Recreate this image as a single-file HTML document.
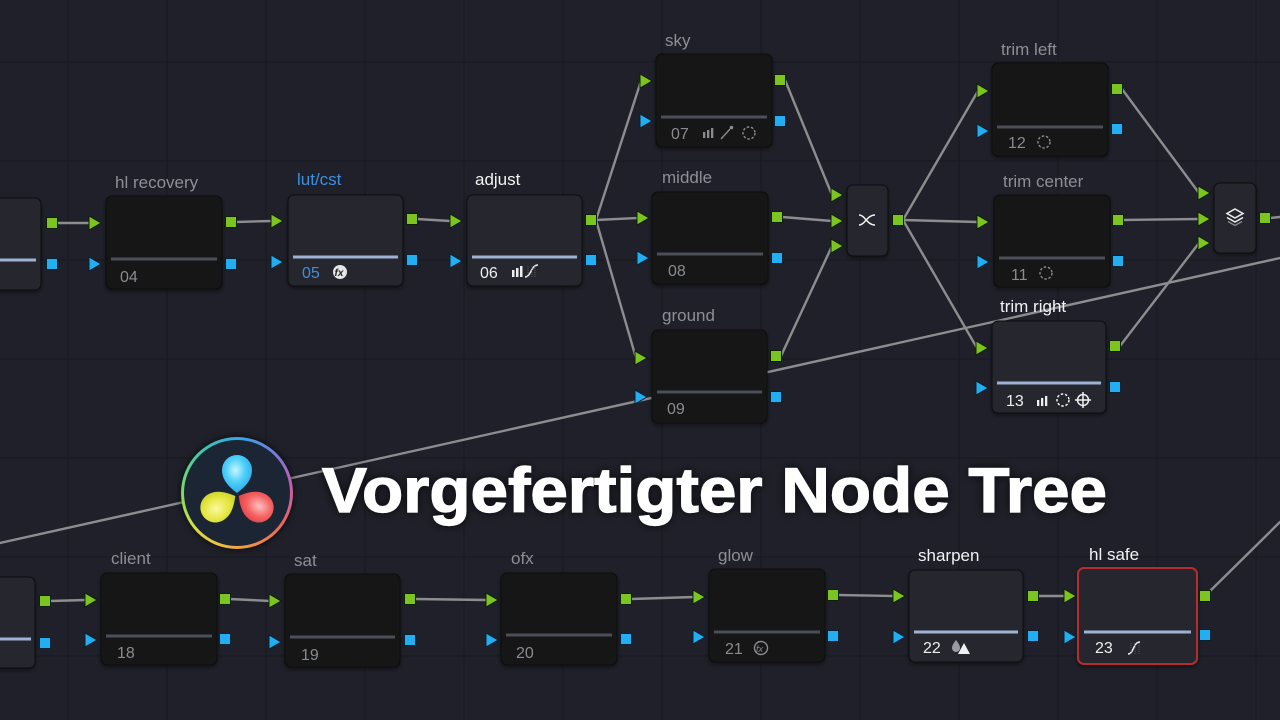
<!DOCTYPE html>
<html><head><meta charset="utf-8">
<style>
html,body{margin:0;padding:0;background:#1f2029;}
#wrap{position:relative;width:1280px;height:720px;overflow:hidden;background:#1f2029;}
svg{position:absolute;left:0;top:0;}
.grid line{stroke:#1b1c23;stroke-width:1.5}
.cn{stroke:#8d8d90;stroke-width:2.4;fill:none;stroke-linecap:round}
.dk{fill:#131317;stroke:#0b0b0d;stroke-width:1}
.lt{fill:#26272e;stroke:#0e0e11;stroke-width:1}
.ld{stroke:#4b4f59;stroke-width:3}
.ll{stroke:#9fb2d4;stroke-width:3}
.lb{font-family:"Liberation Sans",sans-serif;font-size:17px;fill:#8e8f95}
.lw{font-family:"Liberation Sans",sans-serif;font-size:17px;fill:#f2f2f2}
.nd{font-family:"Liberation Sans",sans-serif;font-size:16px;fill:#8a8b90}
.nw{font-family:"Liberation Sans",sans-serif;font-size:16px;fill:#eeeeee}
.gt{fill:#7cc520;stroke:#0f2006;stroke-width:1}
.bt{fill:#22aef0;stroke:#062233;stroke-width:1}
.ic{stroke:#8a8b90;fill:none;stroke-width:1.4}
.iw{stroke:#f0f0f0;fill:none;stroke-width:1.5}
#logo{position:absolute;left:181px;top:437px;width:112px;height:112px;border-radius:50%;
background:conic-gradient(from 0deg,#33a9e6,#6b7ee0 40deg,#c05fb0 80deg,#e5626a 120deg,#f08a48 160deg,#f0c040 200deg,#d8e040 230deg,#80d860 270deg,#40c8b0 320deg,#33a9e6);
box-shadow:0 0 8px rgba(0,0,0,.7);}
#logo div{position:absolute;left:3px;top:3px;right:3px;bottom:3px;border-radius:50%;background:#1c2534;}
</style></head>
<body><div id="wrap">
<svg width="1280" height="720" viewBox="0 0 1280 720">
<defs>
<filter id="sh" x="-10%" y="-10%" width="120%" height="130%"><feDropShadow dx="0" dy="2" stdDeviation="2" flood-color="#000" flood-opacity="0.45"/></filter>
<filter id="tsh" x="-5%" y="-30%" width="110%" height="160%"><feDropShadow dx="0" dy="0" stdDeviation="5" flood-color="#000" flood-opacity="0.7"/></filter>
</defs>
<g class="grid">
<line x1="68" y1="0" x2="68" y2="720"/><line x1="167" y1="0" x2="167" y2="720"/><line x1="266" y1="0" x2="266" y2="720"/><line x1="365" y1="0" x2="365" y2="720"/><line x1="464" y1="0" x2="464" y2="720"/><line x1="563" y1="0" x2="563" y2="720"/><line x1="662" y1="0" x2="662" y2="720"/><line x1="761" y1="0" x2="761" y2="720"/><line x1="860" y1="0" x2="860" y2="720"/><line x1="959" y1="0" x2="959" y2="720"/><line x1="1058" y1="0" x2="1058" y2="720"/><line x1="1157" y1="0" x2="1157" y2="720"/><line x1="1256" y1="0" x2="1256" y2="720"/>
<line x1="0" y1="62" x2="1280" y2="62"/><line x1="0" y1="161" x2="1280" y2="161"/><line x1="0" y1="260" x2="1280" y2="260"/><line x1="0" y1="359" x2="1280" y2="359"/><line x1="0" y1="458" x2="1280" y2="458"/><line x1="0" y1="557" x2="1280" y2="557"/><line x1="0" y1="656" x2="1280" y2="656"/>
</g>

<!-- connectors -->
<g class="cn">
<line x1="0" y1="543" x2="1280" y2="258"/>
<line x1="57" y1="223" x2="89" y2="223"/>
<line x1="236" y1="222" x2="271" y2="221"/>
<line x1="417" y1="219" x2="450" y2="221"/>
<line x1="596" y1="220" x2="641" y2="81"/>
<line x1="596" y1="220" x2="638" y2="218"/>
<line x1="596" y1="220" x2="636" y2="358"/>
<line x1="785" y1="80" x2="832" y2="195"/>
<line x1="782" y1="217" x2="832" y2="221"/>
<line x1="781" y1="356" x2="832" y2="246"/>
<line x1="903" y1="220" x2="978" y2="91"/>
<line x1="903" y1="220" x2="978" y2="222"/>
<line x1="903" y1="220" x2="977" y2="348"/>
<line x1="1122" y1="89" x2="1199" y2="193"/>
<line x1="1123" y1="220" x2="1199" y2="219"/>
<line x1="1120" y1="346" x2="1199" y2="243"/>
<line x1="1270" y1="218" x2="1280" y2="217"/>
<line x1="50" y1="601" x2="86" y2="600"/>
<line x1="230" y1="599" x2="270" y2="601"/>
<line x1="415" y1="599" x2="487" y2="600"/>
<line x1="631" y1="599" x2="694" y2="597"/>
<line x1="838" y1="595" x2="894" y2="596"/>
<line x1="1038" y1="596" x2="1065" y2="596"/>
<line x1="1205" y1="596" x2="1280" y2="522"/>
</g>

<!-- nodes -->
<g filter="url(#sh)">
<rect x="-10" y="198" width="51" height="92" rx="6" class="lt"/>
<rect x="106" y="196" width="116" height="93" rx="6" class="dk"/>
<rect x="288" y="195" width="115" height="91" rx="6" class="lt"/>
<rect x="467" y="195" width="115" height="91" rx="6" class="lt"/>
<rect x="656" y="54" width="116" height="93" rx="6" class="dk"/>
<rect x="652" y="192" width="116" height="92" rx="6" class="dk"/>
<rect x="652" y="330" width="115" height="93" rx="6" class="dk"/>
<rect x="847" y="185" width="41" height="71" rx="6" class="lt"/>
<rect x="992" y="63" width="116" height="93" rx="6" class="dk"/>
<rect x="994" y="195" width="116" height="92" rx="6" class="dk"/>
<rect x="992" y="321" width="114" height="92" rx="6" class="lt"/>
<rect x="1214" y="183" width="42" height="70" rx="6" class="lt"/>
<rect x="-10" y="577" width="45" height="91" rx="6" class="lt"/>
<rect x="101" y="573" width="116" height="92" rx="6" class="dk"/>
<rect x="285" y="574" width="115" height="93" rx="6" class="dk"/>
<rect x="501" y="573" width="116" height="92" rx="6" class="dk"/>
<rect x="709" y="569" width="116" height="93" rx="6" class="dk"/>
<rect x="909" y="570" width="114" height="92" rx="6" class="lt"/>
<rect x="1078" y="568" width="119" height="96" rx="6" fill="#26272e" stroke="#b42e2e" stroke-width="2"/>
</g>

<!-- inner lines -->
<line x1="-10" y1="260" x2="36" y2="260" class="ll"/>
<line x1="111" y1="259" x2="217" y2="259" class="ld"/>
<line x1="293" y1="257" x2="398" y2="257" class="ll"/>
<line x1="472" y1="257" x2="577" y2="257" class="ll"/>
<line x1="661" y1="117" x2="767" y2="117" class="ld"/>
<line x1="657" y1="254" x2="763" y2="254" class="ld"/>
<line x1="657" y1="392" x2="762" y2="392" class="ld"/>
<line x1="997" y1="127" x2="1103" y2="127" class="ld"/>
<line x1="999" y1="258" x2="1105" y2="258" class="ld"/>
<line x1="997" y1="383" x2="1101" y2="383" class="ll"/>
<line x1="-10" y1="639" x2="31" y2="639" class="ll"/>
<line x1="106" y1="636" x2="212" y2="636" class="ld"/>
<line x1="290" y1="637" x2="395" y2="637" class="ld"/>
<line x1="506" y1="635" x2="612" y2="635" class="ld"/>
<line x1="714" y1="632" x2="820" y2="632" class="ld"/>
<line x1="914" y1="632" x2="1018" y2="632" class="ll"/>
<line x1="1084" y1="632" x2="1191" y2="632" class="ll"/>

<!-- labels -->
<text x="115" y="188" class="lb">hl recovery</text>
<text x="297" y="185" class="lb" style="fill:#3d8fe0">lut/cst</text>
<text x="475" y="185" class="lw">adjust</text>
<text x="665" y="46" class="lb">sky</text>
<text x="662" y="183" class="lb">middle</text>
<text x="662" y="321" class="lb">ground</text>
<text x="1001" y="55" class="lb">trim left</text>
<text x="1003" y="187" class="lb">trim center</text>
<text x="1000" y="312" class="lw">trim right</text>
<text x="111" y="564" class="lb">client</text>
<text x="294" y="566" class="lb">sat</text>
<text x="511" y="564" class="lb">ofx</text>
<text x="718" y="561" class="lb">glow</text>
<text x="918" y="561" class="lw">sharpen</text>
<text x="1089" y="560" class="lw">hl safe</text>

<!-- numbers -->
<text x="120" y="282" class="nd">04</text>
<text x="302" y="278" class="nw" style="fill:#3d8fe0">05</text>
<text x="480" y="278" class="nw">06</text>
<text x="671" y="139" class="nd">07</text>
<text x="668" y="276" class="nd">08</text>
<text x="667" y="414" class="nd">09</text>
<text x="1008" y="148" class="nd">12</text>
<text x="1011" y="280" class="nd">11</text>
<text x="1006" y="406" class="nw">13</text>
<text x="117" y="658" class="nd">18</text>
<text x="301" y="660" class="nd">19</text>
<text x="516" y="658" class="nd">20</text>
<text x="725" y="654" class="nd">21</text>
<text x="923" y="653" class="nw">22</text>
<text x="1095" y="653" class="nw">23</text>

<!-- icons -->
<circle cx="340" cy="272" r="7" fill="#e6e6e6"/>
<text x="334.5" y="276" font-family="Liberation Sans,sans-serif" font-size="10" font-weight="bold" font-style="italic" fill="#222">fx</text>
<circle cx="761" cy="648" r="6.5" class="ic"/>
<text x="756" y="652" font-family="Liberation Sans,sans-serif" font-size="9" font-style="italic" fill="#8a8b90">fx</text>
<rect x="512" y="270" width="2.5" height="7" fill="#eee"/><rect x="516" y="268" width="2.5" height="9" fill="#eee"/><rect x="520" y="266" width="2.5" height="11" fill="#eee"/>
<path d="M525,277 C531,277 531,265 538,265" class="iw"/>
<path d="M528,266 v11 M532,266 v11 M535,266 v11" stroke="#666" stroke-width="0.8" stroke-dasharray="1 1"/>
<rect x="703" y="132" width="2.3" height="6" fill="#8a8b90"/><rect x="707" y="130" width="2.3" height="8" fill="#8a8b90"/><rect x="711" y="128" width="2.3" height="10" fill="#8a8b90"/>
<path d="M721,139 L730,129" class="ic"/><circle cx="731.5" cy="127.5" r="1.8" fill="#8a8b90"/>
<circle cx="749" cy="133" r="6" class="ic" stroke-dasharray="2.5 1.8"/>
<circle cx="1044" cy="142" r="6" class="ic" stroke-dasharray="2.5 1.8"/>
<circle cx="1046" cy="273" r="6" class="ic" stroke-dasharray="2.5 1.8"/>
<rect x="1037" y="400" width="2.3" height="6" fill="#eee"/><rect x="1041" y="398" width="2.3" height="8" fill="#eee"/><rect x="1045" y="396" width="2.3" height="10" fill="#eee"/>
<circle cx="1063" cy="400" r="6" class="iw" stroke-dasharray="2.5 1.8"/>
<circle cx="1083" cy="400" r="5.5" class="iw"/><path d="M1083,392 v16 M1075,400 h16" class="iw"/>
<path d="M956,640 C953,644 952,646 952,648 A4,4 0 0 0 960,648 C960,646 959,644 956,640 Z" fill="#9a9ba0"/>
<polygon points="958,654 964,643 970,654" fill="#f0f0f0"/>
<path d="M1128,654 C1134,654 1133,642 1140,642" class="iw"/>
<path d="M1131,643 v11 M1135,643 v11 M1139,643 v11" stroke="#666" stroke-width="0.8" stroke-dasharray="1 1"/>
<path d="M859,215 C865,215 867,225 875,225 M859,225 C865,225 867,215 875,215" class="iw"/>
<polygon points="1235,209 1243,213.5 1235,218 1227,213.5" class="iw"/>
<path d="M1227,217.5 L1235,222 L1243,217.5" class="iw"/>
<path d="M1228,221.5 L1235,225.5 L1242,221.5" stroke="#8a8b90" stroke-width="1.3" fill="none"/>

<!-- ports -->
<g>
<polygon class="gt" points="89,216 101,223 89,230"/><polygon class="gt" points="271,214 283,221 271,228"/><polygon class="gt" points="450,214 462,221 450,228"/><polygon class="gt" points="640,74 652,81 640,88"/><polygon class="gt" points="637,211 649,218 637,225"/><polygon class="gt" points="635,351 647,358 635,365"/><polygon class="gt" points="831,188 843,195 831,202"/><polygon class="gt" points="831,214 843,221 831,228"/><polygon class="gt" points="831,239 843,246 831,253"/><polygon class="gt" points="977,84 989,91 977,98"/><polygon class="gt" points="977,215 989,222 977,229"/><polygon class="gt" points="976,341 988,348 976,355"/><polygon class="gt" points="1198,186 1210,193 1198,200"/><polygon class="gt" points="1198,212 1210,219 1198,226"/><polygon class="gt" points="1198,236 1210,243 1198,250"/><polygon class="gt" points="85,593 97,600 85,607"/><polygon class="gt" points="269,594 281,601 269,608"/><polygon class="gt" points="486,593 498,600 486,607"/><polygon class="gt" points="693,590 705,597 693,604"/><polygon class="gt" points="893,589 905,596 893,603"/><polygon class="gt" points="1064,589 1076,596 1064,603"/>
<polygon class="bt" points="89,257 101,264 89,271"/><polygon class="bt" points="271,255 283,262 271,269"/><polygon class="bt" points="450,254 462,261 450,268"/><polygon class="bt" points="640,114 652,121 640,128"/><polygon class="bt" points="637,251 649,258 637,265"/><polygon class="bt" points="635,390 647,397 635,404"/><polygon class="bt" points="977,124 989,131 977,138"/><polygon class="bt" points="977,255 989,262 977,269"/><polygon class="bt" points="976,381 988,388 976,395"/><polygon class="bt" points="85,633 97,640 85,647"/><polygon class="bt" points="269,635 281,642 269,649"/><polygon class="bt" points="486,633 498,640 486,647"/><polygon class="bt" points="693,630 705,637 693,644"/><polygon class="bt" points="893,630 905,637 893,644"/><polygon class="bt" points="1064,630 1076,637 1064,644"/>
<rect class="gt" x="46.5" y="217.5" width="11" height="11"/><rect class="gt" x="225.5" y="216.5" width="11" height="11"/><rect class="gt" x="406.5" y="213.5" width="11" height="11"/><rect class="gt" x="585.5" y="214.5" width="11" height="11"/><rect class="gt" x="774.5" y="74.5" width="11" height="11"/><rect class="gt" x="771.5" y="211.5" width="11" height="11"/><rect class="gt" x="770.5" y="350.5" width="11" height="11"/><rect class="gt" x="892.5" y="214.5" width="11" height="11"/><rect class="gt" x="1111.5" y="83.5" width="11" height="11"/><rect class="gt" x="1112.5" y="214.5" width="11" height="11"/><rect class="gt" x="1109.5" y="340.5" width="11" height="11"/><rect class="gt" x="1259.5" y="212.5" width="11" height="11"/><rect class="gt" x="39.5" y="595.5" width="11" height="11"/><rect class="gt" x="219.5" y="593.5" width="11" height="11"/><rect class="gt" x="404.5" y="593.5" width="11" height="11"/><rect class="gt" x="620.5" y="593.5" width="11" height="11"/><rect class="gt" x="827.5" y="589.5" width="11" height="11"/><rect class="gt" x="1027.5" y="590.5" width="11" height="11"/><rect class="gt" x="1199.5" y="590.5" width="11" height="11"/>
<rect class="bt" x="46.5" y="258.5" width="11" height="11"/><rect class="bt" x="225.5" y="258.5" width="11" height="11"/><rect class="bt" x="406.5" y="254.5" width="11" height="11"/><rect class="bt" x="585.5" y="254.5" width="11" height="11"/><rect class="bt" x="774.5" y="115.5" width="11" height="11"/><rect class="bt" x="771.5" y="252.5" width="11" height="11"/><rect class="bt" x="770.5" y="391.5" width="11" height="11"/><rect class="bt" x="1111.5" y="123.5" width="11" height="11"/><rect class="bt" x="1112.5" y="255.5" width="11" height="11"/><rect class="bt" x="1109.5" y="381.5" width="11" height="11"/><rect class="bt" x="39.5" y="637.5" width="11" height="11"/><rect class="bt" x="219.5" y="633.5" width="11" height="11"/><rect class="bt" x="404.5" y="634.5" width="11" height="11"/><rect class="bt" x="620.5" y="633.5" width="11" height="11"/><rect class="bt" x="827.5" y="630.5" width="11" height="11"/><rect class="bt" x="1027.5" y="630.5" width="11" height="11"/><rect class="bt" x="1199.5" y="629.5" width="11" height="11"/>
</g>

<!-- title -->
<text x="322" y="512" font-family="Liberation Sans,sans-serif" font-weight="bold" font-size="63" fill="#ffffff" stroke="#ffffff" stroke-width="1.2" textLength="785" lengthAdjust="spacingAndGlyphs" filter="url(#tsh)">Vorgefertigter Node Tree</text>
</svg>

<div id="logo"><div></div></div>
<svg width="1280" height="720" viewBox="0 0 1280 720">
<defs>
<radialGradient id="gc" cx="0.45" cy="0.4" r="0.7"><stop offset="0" stop-color="#c8f6ff"/><stop offset="0.45" stop-color="#4fd0fb"/><stop offset="1" stop-color="#1e9fe6"/></radialGradient>
<radialGradient id="gy" cx="0.45" cy="0.4" r="0.7"><stop offset="0" stop-color="#fbf8a0"/><stop offset="0.5" stop-color="#e6e640"/><stop offset="1" stop-color="#b8c820"/></radialGradient>
<radialGradient id="gr" cx="0.45" cy="0.4" r="0.7"><stop offset="0" stop-color="#ffc0c0"/><stop offset="0.5" stop-color="#f46060"/><stop offset="1" stop-color="#d83838"/></radialGradient>
</defs>
<path d="M237,493 C229,487 222,480 222,470 A15,15 0 1 1 252,470 C252,480 245,487 237,493 Z" fill="url(#gc)"/>
<path transform="rotate(120 237 495)" d="M237,493 C229,487 222,480 222,470 A15,15 0 1 1 252,470 C252,480 245,487 237,493 Z" fill="url(#gr)"/>
<path transform="rotate(240 237 495)" d="M237,493 C229,487 222,480 222,470 A15,15 0 1 1 252,470 C252,480 245,487 237,493 Z" fill="url(#gy)"/>
</svg>
</div></body></html>
